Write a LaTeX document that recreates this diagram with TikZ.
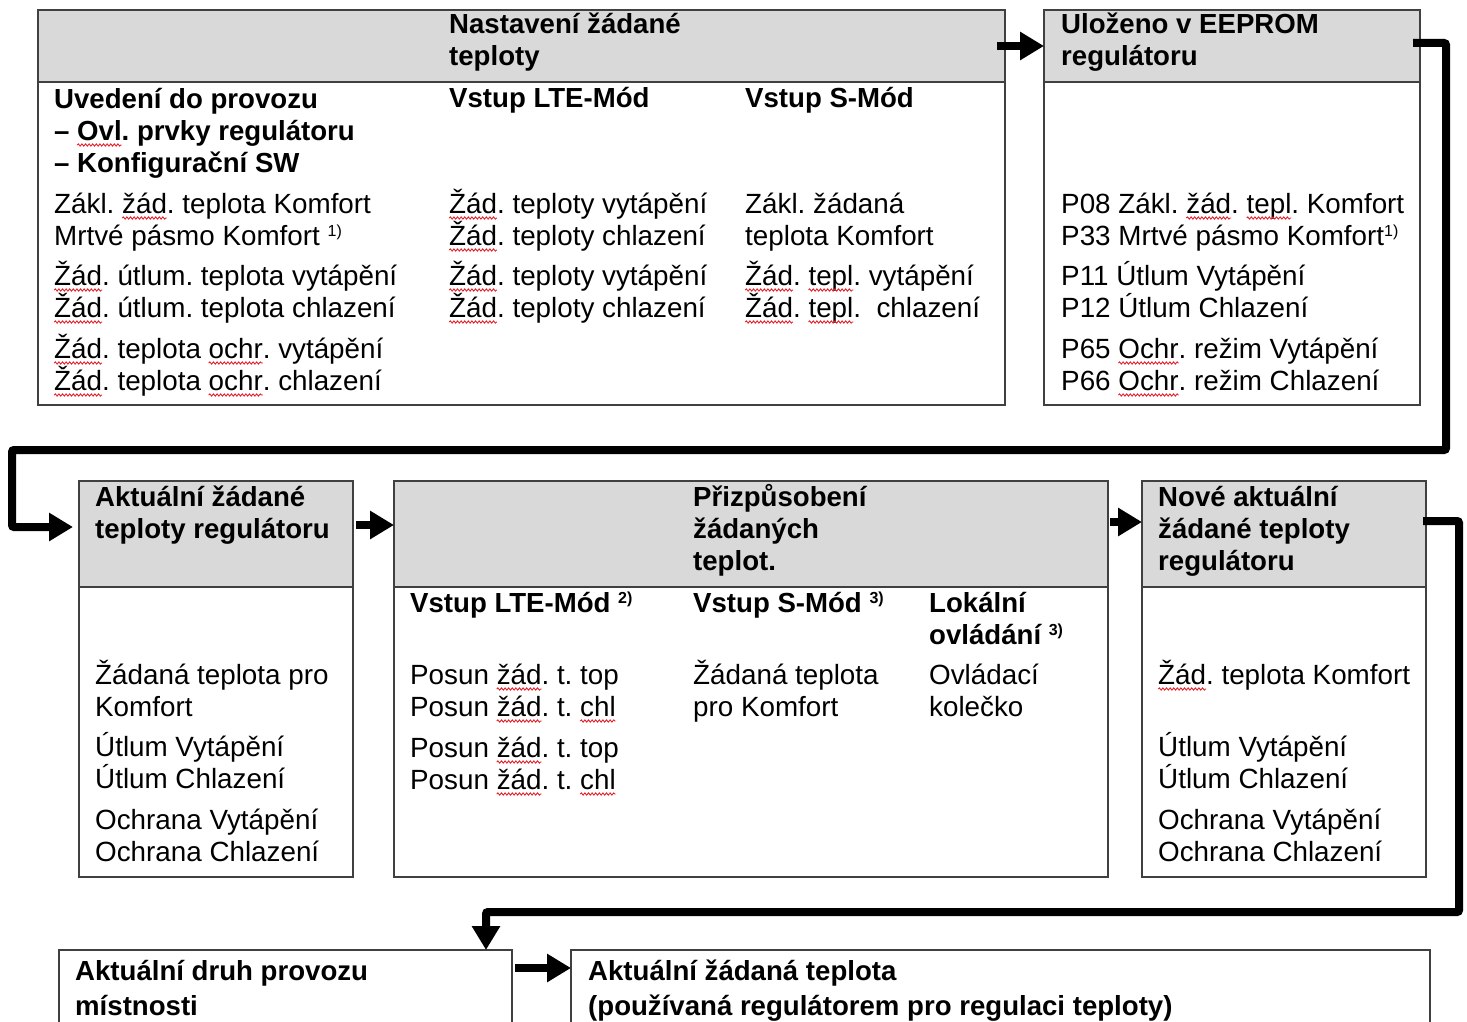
\documentclass[tikz,border=0pt]{standalone}
\usepackage{fontspec}
\setmainfont{Liberation Sans}
\usetikzlibrary{arrows.meta,decorations.pathmorphing}
\definecolor{hdrgray}{HTML}{D9D9D9}
\definecolor{edge}{HTML}{404040}
\definecolor{spell}{HTML}{E8202A}
\frenchspacing
\newcommand\sq[1]{\tikz[baseline=(w.base),x=1pt,y=1pt]{\node[inner sep=0,outer sep=0,anchor=base west](w) at (0,0){#1};%
  \draw[overlay,spell,line width=0.9pt,decorate,decoration={snake,amplitude=1.1pt,segment length=3.6pt}] ([yshift=-5pt]w.base west) -- ([yshift=-5pt]w.base east);}}
\newcommand\fnm[1]{\raisebox{0.55ex}{\fontsize{16}{16}\selectfont #1}}
\begin{document}
\begin{tikzpicture}[x=1pt,y=-1pt,
  boxx/.style={draw=edge,line width=1.5pt,anchor=north west,inner sep=0,outer sep=0},
  hdr/.style={boxx,fill=hdrgray},
  txt/.style={anchor=base west,inner sep=0,align=left,font=\fontsize{27.8}{32}\selectfont},
  btxt/.style={txt,font=\fontsize{27.6}{32}\selectfont\bfseries},
  conn/.style={line width=8pt,rounded corners=2pt,-{Triangle[length=24pt,width=27pt]}}]
\useasboundingbox (0,0) rectangle (1467,1022);
% boxes
\node[hdr,minimum width=967,minimum height=72] (b1h) at (38,10) {};
\node[boxx,minimum width=967,minimum height=395] (b1) at (38,10) {};
\node[hdr,minimum width=376,minimum height=72] (b2h) at (1044,10) {};
\node[boxx,minimum width=376,minimum height=395] (b2) at (1044,10) {};
\node[hdr,minimum width=274,minimum height=106] (b3h) at (79,481) {};
\node[boxx,minimum width=274,minimum height=396] (b3) at (79,481) {};
\node[hdr,minimum width=714,minimum height=106] (b4h) at (394,481) {};
\node[boxx,minimum width=714,minimum height=396] (b4) at (394,481) {};
\node[hdr,minimum width=284,minimum height=106] (b5h) at (1142,481) {};
\node[boxx,minimum width=284,minimum height=396] (b5) at (1142,481) {};
\node[boxx,minimum width=453,minimum height=100] (b6) at (59,950) {};
\node[boxx,minimum width=859,minimum height=100] (b7) at (571,950) {};
% texts box 1 (anchors at the baseline of the LAST line)
\node[btxt] (t1h) at (449,66) {Nastavení žádané\\teploty};
\node[btxt] (t1a) at (54,172) {Uvedení do provozu\\– \sq{Ovl}. prvky regulátoru\\– Konfigurační SW};
\node[btxt] (t1b) at (449,108) {Vstup LTE-Mód};
\node[btxt] (t1c) at (745,108) {Vstup S-Mód};
\node[txt] (t1d) at (54,390) {Zákl. \sq{žád}. teplota Komfort\\Mrtvé pásmo Komfort \fnm{1)}\\[8pt]\sq{Žád}. útlum. teplota vytápění\\\sq{Žád}. útlum. teplota chlazení\\[9pt]\sq{Žád}. teplota \sq{ochr}. vytápění\\\sq{Žád}. teplota \sq{ochr}. chlazení};
\node[txt] (t1e) at (449,317) {\sq{Žád}. teploty vytápění\\\sq{Žád}. teploty chlazení\\[8pt]\sq{Žád}. teploty vytápění\\\sq{Žád}. teploty chlazení};
\node[txt] (t1f) at (745,317) {Zákl. žádaná\\teplota Komfort\\[8pt]\sq{Žád}. \sq{tepl}. vytápění\\\sq{Žád}. \sq{tepl}.\ \ chlazení};
% box 2
\node[btxt] (t2h) at (1061,66) {Uloženo v EEPROM\\regulátoru};
\node[txt] (t2a) at (1061,390) {P08 Zákl. \sq{žád}. \sq{tepl}. Komfort\\P33 Mrtvé pásmo Komfort\fnm{1)}\\[8pt]P11 Útlum Vytápění\\P12 Útlum Chlazení\\[9pt]P65 \sq{Ochr}. režim Vytápění\\P66 \sq{Ochr}. režim Chlazení};
% box 3
\node[btxt] (t3h) at (95,538) {Aktuální žádané\\teploty regulátoru};
\node[txt] (t3a) at (95,861) {Žádaná teplota pro\\Komfort\\[8pt]Útlum Vytápění\\Útlum Chlazení\\[9pt]Ochrana Vytápění\\Ochrana Chlazení};
% box 4
\node[btxt] (t4h) at (693,570) {Přizpůsobení\\žádaných\\teplot.};
\node[btxt] (t4a) at (410,612) {Vstup LTE-Mód \fnm{2)}};
\node[btxt] (t4b) at (693,612) {Vstup S-Mód \fnm{3)}};
\node[btxt] (t4c) at (929,644) {Lokální\\ovládání \fnm{3)}};
\node[txt] (t4d) at (410,789) {Posun \sq{žád}. t. top\\Posun \sq{žád}. t. \sq{chl}\\[9pt]Posun \sq{žád}. t. top\\Posun \sq{žád}. t. \sq{chl}};
\node[txt] (t4e) at (693,716) {Žádaná teplota\\pro Komfort};
\node[txt] (t4f) at (929,716) {Ovládací\\kolečko};
% box 5
\node[btxt] (t5h) at (1158,570) {Nové aktuální\\žádané teploty\\regulátoru};
\node[txt] (t5a) at (1158,684) {\sq{Žád}. teplota Komfort};
\node[txt] (t5b) at (1158,861) {Útlum Vytápění\\Útlum Chlazení\\[9pt]Ochrana Vytápění\\Ochrana Chlazení};
% box 6, 7
\node[btxt] (t6) at (75,1015) {Aktuální druh provozu\\[3pt]místnosti};
\node[btxt] (t7) at (588,1015) {Aktuální žádaná teplota\\[3pt](používaná regulátorem pro regulaci teploty)};
% connectors
\coordinate (r1) at (1446,450);
\coordinate (l1) at (12,527);
\draw[conn] ([xshift=-8pt]b1h.east) -- (b2h.west);
\draw[conn] ([xshift=-7pt,yshift=3pt]b2h.east) -| (r1) -| (l1) -- ([xshift=-6pt,yshift=7pt]b3h.west);
\draw[conn] ([xshift=3pt,yshift=9pt]b3h.east) -- ([yshift=9pt]b4h.west);
\draw[conn] ([xshift=2pt,yshift=12pt]b4h.east) -- ([yshift=12pt]b5h.west);
\coordinate (r2) at (1459,912);
\coordinate (d1) at (486,912);
\draw[conn] ([xshift=-3pt,yshift=13pt]b5h.east) -| (r2) -- (d1) -- (d1 |- b6.north);
\draw[conn] ([xshift=3pt,yshift=-18pt]b6.north east) -- ([yshift=-18pt]b7.north west);
\end{tikzpicture}
\end{document}
